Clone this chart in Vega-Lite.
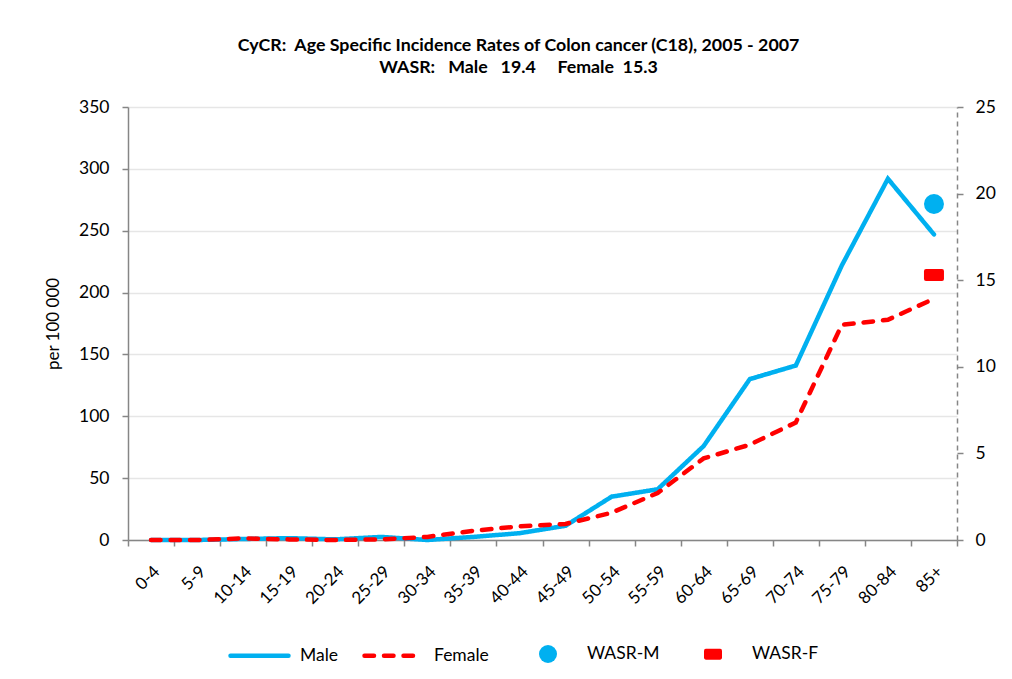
{
  "$schema": "https://vega.github.io/schema/vega-lite/v6.json",
  "width": 829,
  "height": 433,
  "autosize": {"type": "none"},
  "padding": {"left": 128, "top": 107, "right": 55, "bottom": 139},
  "background": "white",
  "config": {"view": {"stroke": null}, "font": "Lato"},
  "title": {
    "text": ["CyCR:\u00a0 Age Specific Incidence Rates of Colon cancer (C18), 2005 - 2007", "WASR:\u00a0\u00a0 Male\u00a0\u00a0 19.4\u00a0\u00a0\u00a0\u00a0 Female\u00a0 15.3"],
    "font": "Lato", "fontSize": 17.8, "fontWeight": "bold", "color": "#000000",
    "anchor": "middle", "frame": "group", "dx": -24, "offset": 21, "lineHeight": 22
  },
  "datasets": {
    "rates": [
      {"age": "0-4", "series": "Male", "rate": 0},
      {"age": "5-9", "series": "Male", "rate": 0},
      {"age": "10-14", "series": "Male", "rate": 0.8},
      {"age": "15-19", "series": "Male", "rate": 1.5},
      {"age": "20-24", "series": "Male", "rate": 0.5},
      {"age": "25-29", "series": "Male", "rate": 2.5},
      {"age": "30-34", "series": "Male", "rate": 0},
      {"age": "35-39", "series": "Male", "rate": 2.5},
      {"age": "40-44", "series": "Male", "rate": 5.5},
      {"age": "45-49", "series": "Male", "rate": 11.5},
      {"age": "50-54", "series": "Male", "rate": 35},
      {"age": "55-59", "series": "Male", "rate": 41},
      {"age": "60-64", "series": "Male", "rate": 76},
      {"age": "65-69", "series": "Male", "rate": 130},
      {"age": "70-74", "series": "Male", "rate": 141},
      {"age": "75-79", "series": "Male", "rate": 222},
      {"age": "80-84", "series": "Male", "rate": 292},
      {"age": "85+", "series": "Male", "rate": 247},
      {"age": "0-4", "series": "Female", "rate": 0},
      {"age": "5-9", "series": "Female", "rate": 0},
      {"age": "10-14", "series": "Female", "rate": 1.3},
      {"age": "15-19", "series": "Female", "rate": 0.5},
      {"age": "20-24", "series": "Female", "rate": 0},
      {"age": "25-29", "series": "Female", "rate": 0.5},
      {"age": "30-34", "series": "Female", "rate": 2.5},
      {"age": "35-39", "series": "Female", "rate": 7.5},
      {"age": "40-44", "series": "Female", "rate": 11},
      {"age": "45-49", "series": "Female", "rate": 13},
      {"age": "50-54", "series": "Female", "rate": 22},
      {"age": "55-59", "series": "Female", "rate": 38},
      {"age": "60-64", "series": "Female", "rate": 66},
      {"age": "65-69", "series": "Female", "rate": 77},
      {"age": "70-74", "series": "Female", "rate": 95},
      {"age": "75-79", "series": "Female", "rate": 174},
      {"age": "80-84", "series": "Female", "rate": 178},
      {"age": "85+", "series": "Female", "rate": 195}
    ],
    "wasr": [
      {"age": "85+", "series": "WASR-M", "wasr": 19.4},
      {"age": "85+", "series": "WASR-F", "wasr": 15.3}
    ]
  },
  "layer": [
    {
      "data": {"name": "rates"},
      "mark": {"type": "line", "strokeWidth": 4.5, "strokeCap": "round", "strokeJoin": "miter"},
      "encoding": {
        "x": {
          "field": "age", "type": "nominal", "bandPosition": 0.5,
          "scale": {"type": "band", "domain": ["0-4","5-9","10-14","15-19","20-24","25-29","30-34","35-39","40-44","45-49","50-54","55-59","60-64","65-69","70-74","75-79","80-84","85+"], "paddingInner": 0, "paddingOuter": 0},
          "axis": {
            "title": null, "grid": false, "labelAngle": -45, "labelFont": "Lato", "labelFontSize": 17, "labelColor": "#000000",
            "domainColor": "#868686", "domainWidth": 1.5, "tickColor": "#868686", "tickWidth": 1.5, "tickSize": 6, "tickBand": "extent", "labelPadding": 17
          }
        },
        "y": {
          "field": "rate", "type": "quantitative",
          "scale": {"domain": [0, 350], "nice": false},
          "axis": {
            "values": [0,50,100,150,200,250,300,350], "title": "per 100 000", "titleFont": "Lato", "titleFontSize": 17, "titleFontWeight": "normal", "titleColor": "#000000", "titlePadding": 16,
            "labelFont": "Lato", "labelFontSize": 17.5, "labelColor": "#000000", "labelPadding": 13,
            "grid": true, "gridColor": "#e6e6e6", "gridWidth": 1.5,
            "domainColor": "#868686", "domainWidth": 1.5, "tickColor": "#868686", "tickWidth": 1.5, "tickSize": 6
          }
        },
        "color": {
          "field": "series", "type": "nominal",
          "scale": {"domain": ["Male","Female"], "range": ["#00B0F0","#FF0000"]},
          "legend": {
            "title": null, "orient": "none", "direction": "horizontal", "legendX": 100, "legendY": 517,
            "padding": 0, "symbolType": "stroke", "symbolSize": 3364, "symbolStrokeWidth": 4.5, "labelFont": "Lato", "labelFontSize": 17.5, "labelColor": "#000000",
            "labelOffset": 9, "columnPadding": 16,
            "encode": {"symbols": {"update": {"strokeCap": {"value": "round"}, "opacity": {"value": 1}}}}
          }
        },
        "strokeDash": {
          "field": "series", "type": "nominal",
          "scale": {"domain": ["Male","Female"], "range": [[1,0],[9.5,10]]},
          "legend": {
            "title": null, "orient": "none", "direction": "horizontal", "legendX": 100, "legendY": 517,
            "padding": 0, "symbolType": "stroke", "symbolSize": 3364, "symbolStrokeWidth": 4.5, "labelFont": "Lato", "labelFontSize": 17.5, "labelColor": "#000000",
            "labelOffset": 9, "columnPadding": 16,
            "encode": {"symbols": {"update": {"strokeCap": {"value": "round"}, "opacity": {"value": 1}}}}
          }
        }
      }
    },
    {
      "data": {"name": "wasr"},
      "mark": {"type": "point", "filled": true, "opacity": 1, "size": 400},
      "encoding": {
        "x": {"field": "age", "type": "nominal", "bandPosition": 0.5},
        "y": {
          "field": "wasr", "type": "quantitative",
          "scale": {"domain": [0, 25], "nice": false},
          "axis": {
            "orient": "right", "values": [0,5,10,15,20,25], "title": null, "grid": false,
            "labelFont": "Lato", "labelFontSize": 17.5, "labelColor": "#000000", "labelPadding": 12,
            "domainColor": "#868686", "domainWidth": 1.5, "domainDash": [5, 4],
            "tickColor": "#868686", "tickWidth": 1.5, "tickSize": 6
          }
        },
        "color": {
          "field": "series", "type": "nominal",
          "scale": {"domain": ["WASR-M","WASR-F"], "range": ["#00B0F0","#FF0000"]},
          "legend": {
            "title": null, "orient": "none", "direction": "horizontal", "legendX": 411, "legendY": 538,
            "padding": 0, "symbolSize": 324, "symbolStrokeWidth": 0, "labelFont": "Lato", "labelFontSize": 17.5, "labelColor": "#000000",
            "labelOffset": 30, "columnPadding": 44
          }
        },
        "shape": {
          "field": "series", "type": "nominal",
          "scale": {"domain": ["WASR-M","WASR-F"], "range": ["circle", "M-0.8,-0.6L0.8,-0.6Q1,-0.6 1,-0.4L1,0.4Q1,0.6 0.8,0.6L-0.8,0.6Q-1,0.6 -1,0.4L-1,-0.4Q-1,-0.6 -0.8,-0.6Z"]},
          "legend": {
            "title": null, "orient": "none", "direction": "horizontal", "legendX": 411, "legendY": 538,
            "padding": 0, "symbolSize": 324, "symbolStrokeWidth": 0, "labelFont": "Lato", "labelFontSize": 17.5, "labelColor": "#000000",
            "labelOffset": 30, "columnPadding": 44
          }
        }
      }
    }
  ],
  "resolve": {"scale": {"y": "independent", "color": "independent", "shape": "independent", "strokeDash": "independent"}, "legend": {"color": "independent", "shape": "independent"}}
}
